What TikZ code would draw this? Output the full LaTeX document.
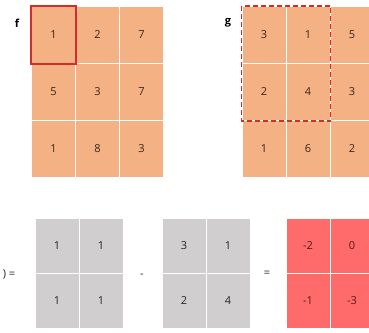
\documentclass[tikz,border=0pt]{standalone}
\usepackage{fontspec}
\setmainfont{Open Sans}
\definecolor{cellorange}{HTML}{F4B183}
\definecolor{cellgray}{HTML}{D0CECE}
\definecolor{cellred}{HTML}{FF6B6B}
\definecolor{otext}{HTML}{3A2618}
\definecolor{rtext}{HTML}{561A1A}
\definecolor{boxred}{HTML}{D42B2B}
\tikzset{
  cellbase/.style={rectangle, draw=white, line width=1pt, inner sep=0pt, font=\fontsize{11}{13}\selectfont},
  ocell/.style={cellbase, fill=cellorange, text=otext, minimum width=44pt, minimum height=57pt},
  gcell/.style={cellbase, fill=cellgray, text=black!85, minimum width=44pt, minimum height=55pt},
  rcell/.style={cellbase, fill=cellred, text=rtext, minimum width=44pt, minimum height=55pt},
  lbl/.style={font=\bfseries\fontsize{11}{13}\selectfont},
  op/.style={font=\fontsize{11}{13}\selectfont, text=black!85},
  selbox/.style={draw=boxred, line width=1.8pt},
}
\begin{document}
\begin{tikzpicture}[x=1pt,y=-1pt]
\useasboundingbox[fill=white] (0,0) rectangle (369,332);
% f grid
\node[ocell] (f11) at (53.5,35) {1};
\node[ocell] (f12) at (97.5,35) {2};
\node[ocell] (f13) at (141.5,35) {7};
\node[ocell] (f21) at (53.5,92) {5};
\node[ocell] (f22) at (97.5,92) {3};
\node[ocell] (f23) at (141.5,92) {7};
\node[ocell] (f31) at (53.5,149) {1};
\node[ocell] (f32) at (97.5,149) {8};
\node[ocell] (f33) at (141.5,149) {3};
\node[lbl] (flbl) at (17,23) {f};
\draw[selbox] (f11.north west) rectangle (f11.south east);
% g grid
\node[ocell] (g11) at (264,35) {3};
\node[ocell] (g12) at (308,35) {1};
\node[ocell] (g13) at (352,35) {5};
\node[ocell] (g21) at (264,92) {2};
\node[ocell] (g22) at (308,92) {4};
\node[ocell] (g23) at (352,92) {3};
\node[ocell] (g31) at (264,149) {1};
\node[ocell] (g32) at (308,149) {6};
\node[ocell] (g33) at (352,149) {2};
\node[lbl] (glbl) at (228,23) {g};
\draw[selbox, dash pattern=on 5pt off 3pt] (g11.north west) rectangle (g22.south east);
% bottom row
\node[op] (rp) at (9,274) {) =};
\node[gcell] (a11) at (57,245.5) {1};
\node[gcell] (a12) at (101,245.5) {1};
\node[gcell] (a21) at (57,300.5) {1};
\node[gcell] (a22) at (101,300.5) {1};
\node[op] (minus) at (142,276) {-};
\node[gcell] (b11) at (184,245.5) {3};
\node[gcell] (b12) at (228,245.5) {1};
\node[gcell] (b21) at (184,300.5) {2};
\node[gcell] (b22) at (228,300.5) {4};
\node[op] (eq) at (267,274) {=};
\node[rcell] (c11) at (308,245.5) {-2};
\node[rcell] (c12) at (352,245.5) {0};
\node[rcell] (c21) at (308,300.5) {-1};
\node[rcell] (c22) at (352,300.5) {-3};
\end{tikzpicture}
\end{document}
